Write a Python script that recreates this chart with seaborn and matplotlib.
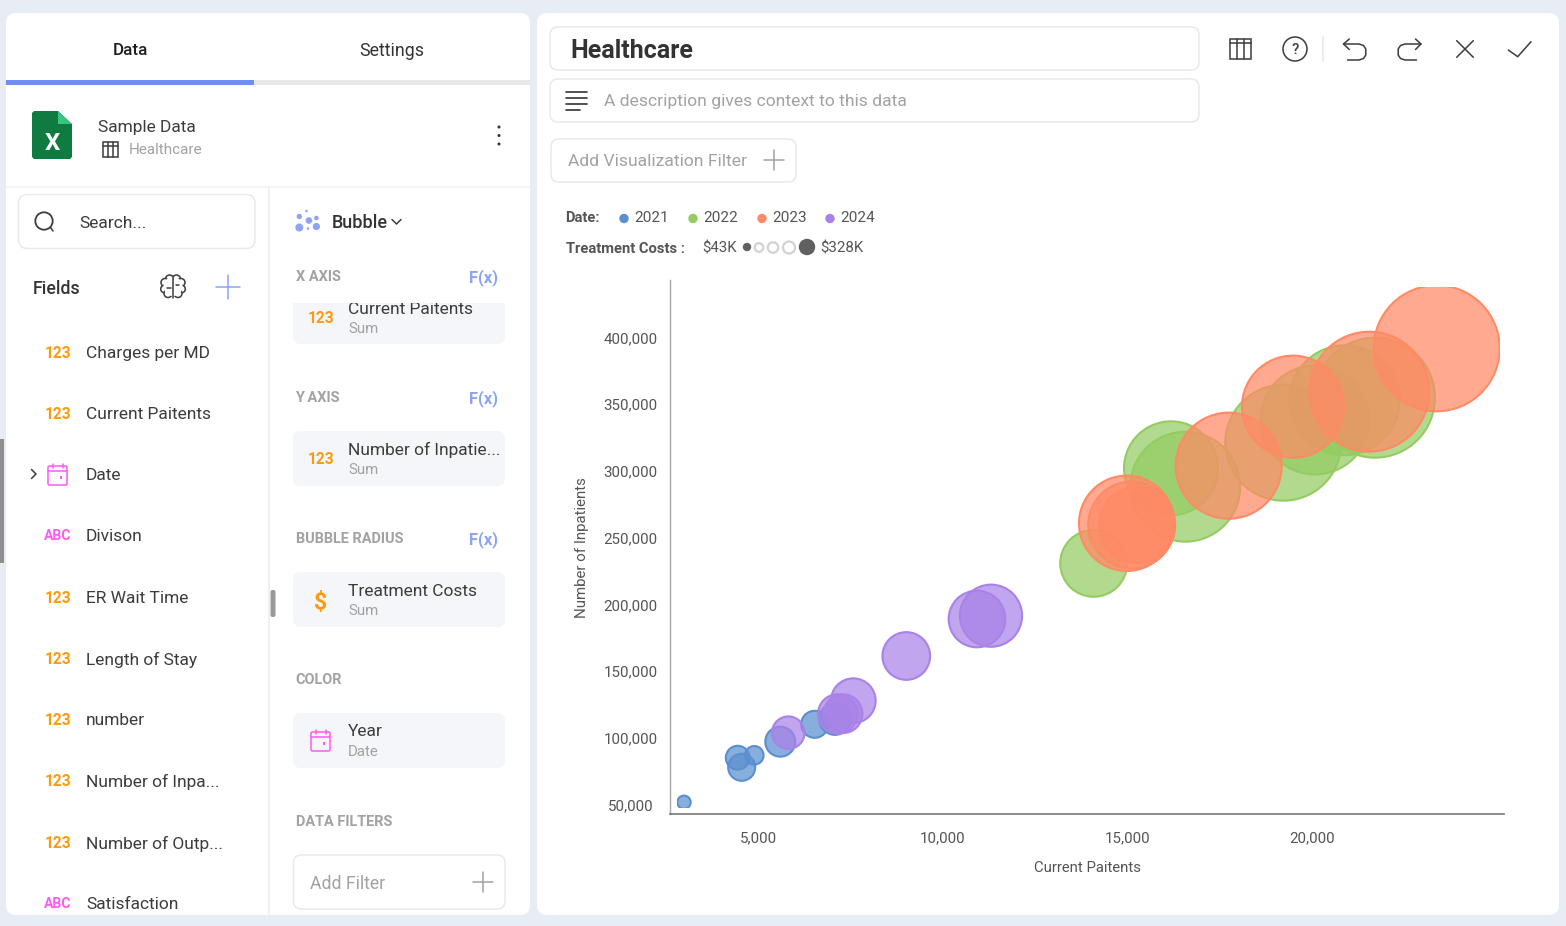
import matplotlib
matplotlib.use("Agg")
import matplotlib.pyplot as plt
import pandas as pd
import seaborn as sns
from matplotlib.colors import to_rgba
from matplotlib.patches import Circle, Ellipse, FancyBboxPatch, Polygon, Rectangle
from matplotlib.transforms import ScaledTranslation

# chart data
years = [2021, 2022, 2023, 2024]
year_colors = ["#5B8FD0", "#94CC62", "#FF8A65", "#A982E8"]
patients = {
    2021: [2998, 4451, 4559, 4900, 5603, 6534, 7084],
    2022: [14084, 16176, 16563, 19215, 20072, 20876, 21696],
    2023: [14977, 15112, 15256, 17737, 19477, 21542, 23366],
    2024: [5820, 7579, 7157, 7300, 9013, 10926, 11305],
}
inpatients = {
    2021: [52400, 85830, 78635, 87630, 97825, 110870, 114840],
    2022: [231550, 302770, 288970, 321960, 338970, 353740, 355690],
    2023: [261540, 260260, 260260, 304720, 348950, 360200, 392720],
    2024: [104570, 128560, 118590, 118810, 162070, 189800, 192270],
}
costs = {
    2021: [43, 50, 53, 46, 56, 53, 58],
    2022: [121, 200, 259, 284, 255, 259, 301],
    2023: [205, 177, 145, 244, 229, 301, 328],
    2024: [59, 76, 68, 67, 81, 98, 110],
}
x_ticks = [5000, 10000, 15000, 20000]
y_ticks = [50000, 100000, 150000, 200000, 250000, 300000, 350000, 400000]

# ui text
field_rows = [
    ("123", "Charges per MD"), ("123", "Current Paitents"), ("cal", "Date"),
    ("ABC", "Divison"), ("123", "ER Wait Time"), ("123", "Length of Stay"),
    ("123", "number"), ("123", "Number of Inpa..."), ("123", "Number of Outp..."),
    ("ABC", "Satisfaction"),
]
field_ys = [352, 413, 474, 535, 597, 658, 719, 780, 842, 903]
section_labels = ["X AXIS", "Y AXIS", "BUBBLE RADIUS", "COLOR", "DATA FILTERS"]
section_ys = [276, 397, 538, 679, 821]

ORANGE = "#FF9A0A"
PINK = "#FF5AF2"
BLUE = "#8CA3F5"
GREY = "#A2A2A2"
DARK = "#3C3C3C"
BORDER = "#E9E9E9"

sns.set_theme(style="white")
plt.rcParams["font.family"] = ["Roboto", "DejaVu Sans"]

fig = plt.figure(figsize=(15.66, 9.26), dpi=100, facecolor="#E8ECF4")
ui = fig.add_axes([0, 0, 1, 1])
ui.set_xlim(0, 1566)
ui.set_ylim(926, 0)
ui.axis("off")


def box(x0, y0, x1, y1, r=8, fc="white", ec="none", lw=1.1, z=1):
    p = FancyBboxPatch((x0, y0), x1 - x0, y1 - y0, boxstyle=f"round,pad=0,rounding_size={r}",
                       fc=fc, ec=ec, lw=lw, zorder=z)
    ui.add_patch(p)
    return p


def label(x, y, s, px=17.4, color=DARK, weight="normal", ha="left", z=5):
    return ui.text(x, y - 1, s, fontsize=px * 0.72, color=color, fontweight=weight, ha=ha,
                   va="center_baseline", zorder=z)


def line(xs, ys, color=DARK, lw=1.1, z=5):
    ui.plot(xs, ys, color=color, lw=lw, zorder=z, solid_capstyle="round", solid_joinstyle="round")


def plus(x, y, half, color=GREY):
    line([x - half, x + half], [y, y], color)
    line([x, x], [y - half, y + half], color)


def grid_icon(x, y, w, h):
    ui.add_patch(Rectangle((x - w / 2, y - h / 2), w, h, fc="none", ec=DARK, lw=1.1, zorder=5))
    line([x - w / 2, x + w / 2], [y - h / 2 + 4, y - h / 2 + 4])
    line([x - w / 6, x - w / 6], [y - h / 2, y + h / 2])
    line([x + w / 6, x + w / 6], [y - h / 2, y + h / 2])


def calendar(x, y):
    box(x - 9.5, y - 8.5, x + 9.5, y + 10.5, r=1.5, fc="none", ec=PINK, z=5)
    line([x - 9.5, x + 9.5], [y - 4, y - 4], PINK)
    line([x - 5, x - 5], [y - 11, y - 7], PINK)
    line([x + 5, x + 5], [y - 11, y - 7], PINK)
    ui.add_patch(Rectangle((x + 2, y + 1.5), 2.5, 2.5, fc=PINK, ec="none", zorder=5))


def brain(x, y):
    for dx, dy, r in [(3.5, -7.5, 4), (8, -4, 4), (8.5, 2.5, 3.8), (5, 7, 4)]:
        ui.add_patch(Circle((x + dx, y + dy), r, fc="white", ec=DARK, lw=1.1, zorder=5))
        ui.add_patch(Circle((x - dx, y + dy), r, fc="white", ec=DARK, lw=1.1, zorder=5))
    ui.add_patch(Ellipse((x, y), 19, 19, fc="white", ec="none", zorder=6))
    line([x, x], [y - 10.5, y + 11], z=7)
    line([x - 6, x - 2.5], [y + 1, y + 1], z=7)
    line([x + 6, x + 2.5], [y - 2, y - 2], z=7)


# panels
box(6, 13, 530, 915, r=10)
box(537, 13, 1559, 915, r=10)

# left panel tabs and source
ui.add_patch(Rectangle((6, 80), 524, 5, fc="#E8E8E8", ec="none", zorder=2))
ui.add_patch(Rectangle((6, 80), 248, 5, fc="#6F8EF2", ec="none", zorder=3))
label(130, 50, "Data", 17, "#1E1E1E", 500, "center")
label(392, 49.5, "Settings", 17.8, "#333333", "normal", "center")
ui.add_patch(Rectangle((6, 185.5), 524, 2, fc="#F5F5F5", ec="none", zorder=2))
ui.add_patch(Rectangle((267.5, 187), 2, 728, fc="#F0F0F0", ec="none", zorder=2))
ui.add_patch(Polygon([(34, 111), (58, 111), (72, 124), (72, 157), (70, 159), (34, 159), (32, 157), (32, 113)],
                     fc="#0F7B41", ec="none", zorder=4))
ui.add_patch(Polygon([(58, 111), (71.5, 124), (58, 124)], fc="#39C47F", ec="none", zorder=5))
label(52, 142, "X", 24, "white", "bold", "center")
label(98, 127, "Sample Data")
grid_icon(110.5, 149, 15, 15)
label(129, 150, "Healthcare", 15.3, GREY)
for dot_y in [127, 135.5, 144]:
    ui.add_patch(Circle((499, dot_y), 1.5, fc="#333333", ec="none", zorder=5))

# fields column
box(18.5, 194.5, 255, 248.5, r=9, ec=BORDER)
ui.add_patch(Circle((44, 221), 8.7, fc="none", ec=DARK, lw=1.3, zorder=5))
line([50.5, 53], [227.5, 231])
label(79, 222.5, "Search...")
label(33, 287.5, "Fields", 17.8, "#333333", 500)
brain(173, 286.5)
plus(228, 287, 12, BLUE)
for (kind, name), y in zip(field_rows, field_ys):
    if kind == "cal":
        calendar(57.5, y + 0.5)
        line([31.5, 36, 31.5], [469.5, 474, 478.5])
    else:
        kind_color = ORANGE if kind == "123" else PINK
        label(58, y + 1, kind, 15.5 if kind == "123" else 14, kind_color, "bold", "center")
    label(86, y + 1, name)

# settings column
ui.add_patch(Rectangle((0, 439), 3.5, 124, fc="#8F8F8F", ec="none", zorder=3))
box(270.5, 590, 275.5, 617, r=2, fc="#9A9A9A", z=3)
for cx, cy, r in [(299.3, 216.5, 2.7), (306.5, 211, 1.3), (308.9, 220.5, 3.3), (316.4, 218, 2.3),
                  (299.3, 227.5, 4), (308, 228.5, 1.3), (316.4, 226.5, 3.6)]:
    ui.add_patch(Circle((cx, cy), r, fc="#8FA3F7", ec="none", zorder=5))
label(332, 222.5, "Bubble", 18, "#333333", 500)
line([392, 396.5, 401], [219.5, 224, 219.5])
for text, y in zip(section_labels, section_ys):
    label(295.5, y + 0.5, text, 14.5, GREY, "bold")
for y in section_ys[:3]:
    label(498, y + 0.5, "F(x)", 16.5, BLUE, "bold", "right")

card_tops = [303, 431, 572, 713]
card_bottoms = [344, 486, 627, 768]
card_names = ["Current Paitents", "Number of Inpatie...", "Treatment Costs", "Year"]
card_subs = ["Sum", "Sum", "Sum", "Date"]
for i, (top, bottom) in enumerate(zip(card_tops, card_bottoms)):
    card = box(293, top, 505, bottom, r=8, fc="#F5F6FA")
    if i == 0:
        # first card is scrolled under the section header
        ui.add_patch(Rectangle((293, top), 212, 9, fc="#F5F6FA", ec="none", zorder=1))
        main = label(348, 308.5, card_names[i])
        main.set_clip_path(Rectangle((293, 303), 212, 41, transform=ui.transData))
        main.set_clip_on(True)
        label(348, 328.5, card_subs[i], 15, GREY)
        label(321, 318, "123", 15.5, ORANGE, "bold", "center")
        continue
    label(348, top + 18.5, card_names[i])
    label(348, top + 38.5, card_subs[i], 15, GREY)
    if i == 1:
        label(321, top + 28, "123", 15.5, ORANGE, "bold", "center")
    elif i == 2:
        label(320.5, top + 28.5, "$", 23, ORANGE, "bold", "center")
    else:
        calendar(320.5, top + 27.5)
box(293.5, 855, 505, 909, r=8, ec=BORDER)
label(310.5, 883, "Add Filter", 17.6, GREY)
plus(483, 882, 10)

# right panel header
box(550, 27, 1199, 70, r=8, ec=BORDER)
label(570.5, 50, "Healthcare", 25, "#333333", "bold")
box(550, 79, 1199, 122, r=8, ec=BORDER)
for w, y in zip([21, 21, 21, 14], [92, 97.5, 103.5, 109.5]):
    line([566, 566 + w], [y, y], "#333333", 1.2)
label(604, 101, "A description gives context to this data", 17.5, GREY)
box(551, 139, 796, 182, r=8, ec=BORDER)
label(568, 161, "Add Visualization Filter", 17.5, GREY)
plus(774, 160, 10)

grid_icon(1240, 49, 21, 20)
ui.add_patch(Circle((1295, 49), 12, fc="none", ec=DARK, lw=1.1, zorder=5))
label(1295, 50, "?", 15, DARK, 500, "center")
line([1323, 1323], [37, 61], "#E6E6E6")
line([1349.3, 1343.5, 1349.3], [39, 44, 49.5])
line([1343.5, 1359, 1363.5, 1365.8, 1365.8, 1363.5, 1359, 1347.5], [44, 44, 45.5, 49, 55, 58.5, 60, 60])
line([1415.5, 1421, 1415.5], [39, 44, 49.5])
line([1421, 1405, 1400.5, 1398.2, 1398.2, 1400.5, 1405, 1416.5], [44, 44, 45.5, 49, 55, 58.5, 60, 60])
line([1456.7, 1473.3], [40.7, 57.3])
line([1473.3, 1456.7], [40.7, 57.3])
line([1508.3, 1517.7, 1531], [50, 56.7, 41.7])

# legend rows
label(565.5, 217.5, "Date:", 14.7, "#555555", "bold")
for year, color, dot_x in zip(years, year_colors, [624, 693, 762, 830]):
    ui.add_patch(Circle((dot_x, 218.5), 4.7, fc=color, ec="none", zorder=5))
    label(dot_x + 10.5, 217.5, str(year), 15.3, "#555555")
label(565.5, 248.5, "Treatment Costs :", 14.8, "#555555", "bold")
label(702.5, 248.5, "$43K", 15, "#555555")
ui.add_patch(Circle((747, 247), 4.2, fc="#606060", ec="none", zorder=5))
for cx, r in [(759, 4.3), (773, 5.2), (789, 6)]:
    ui.add_patch(Circle((cx, 247.5), r, fc="none", ec="#D2D2D2", lw=1.6, zorder=5))
ui.add_patch(Circle((807, 247), 8.2, fc="#606060", ec="none", zorder=5))
label(820, 248.5, "$328K", 15, "#555555")

# bubble chart
ax = fig.add_axes([670 / 1566, (926 - 814) / 926, 834 / 1566, 534 / 926], facecolor="none")
clip = Rectangle((677, 287), 823, 521, transform=ui.transData)
for year, color in zip(years, year_colors):
    df = pd.DataFrame({"x": patients[year], "y": inpatients[year], "cost": costs[year]})
    sns.scatterplot(data=df, x="x", y="y", size="cost", sizes=(93, 8230), size_norm=(43, 328),
                    legend=False, ax=ax, zorder=years.index(year) + 2)
    dots = ax.collections[-1]
    dots.set_facecolor(to_rgba(color, 0.72))
    dots.set_edgecolor(color)
    dots.set_linewidth(1.5)
    dots.set_clip_path(clip)

ax.set_xlim(2619, 25187)
ax.set_ylim(43628, 443915)
ax.set_xticks(x_ticks, [f"{v:,}" for v in x_ticks])
ax.set_yticks(y_ticks, [f"{v:,}" for v in y_ticks])
ax.tick_params(axis="x", length=0, pad=12.3, labelsize=10.9, labelcolor="#555555")
# y labels are centred on each other in the original
ax.tick_params(axis="y", length=0, pad=28.5, labelsize=10.9, labelcolor="#555555")
for tick_label in ax.get_yticklabels():
    tick_label.set_horizontalalignment("center")
    tick_label.set_transform(tick_label.get_transform() + ScaledTranslation(0, 1 / 100, fig.dpi_scale_trans))
ax.set_xlabel("Current Paitents", fontsize=10.7, color="#555555")
ax.set_ylabel("Number of Inpatients", fontsize=10.8, color="#555555")
ax.xaxis.set_label_coords(418 / 834, -47.5 / 534)
ax.yaxis.set_label_coords(-81 / 834, 266 / 534)
sns.despine(ax=ax)
ax.spines["left"].set_color("#A8A8A8")
ax.spines["left"].set_linewidth(1)
ax.spines["bottom"].set_color("#777777")
ax.spines["bottom"].set_linewidth(1.2)

fig.savefig("out.png", dpi=100, facecolor=fig.get_facecolor())
